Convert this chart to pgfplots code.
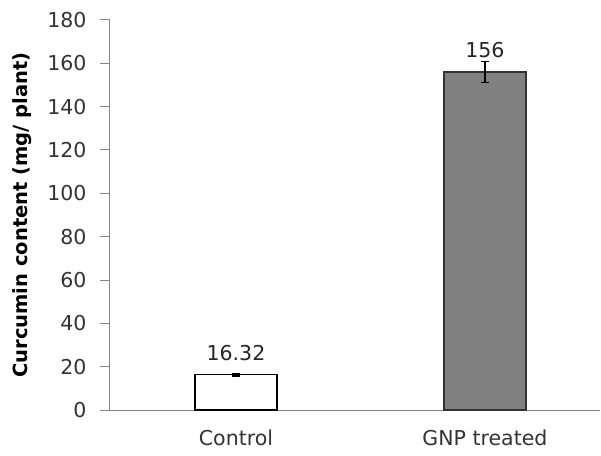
\documentclass[border=0pt]{standalone}
\usepackage{pgfplots}
\pgfplotsset{compat=1.18}
\usepackage{fontspec}
\setmainfont{DejaVu Sans}
\definecolor{axgray}{HTML}{868686}
\definecolor{bargray}{HTML}{808080}
\begin{document}
\begin{tikzpicture}[x=1pt,y=1pt]
\useasboundingbox (-110,-45) rectangle (491,410);
\begin{axis}[
  at={(0,0)}, anchor=south west,
  scale only axis, width=490pt, height=390pt,
  xmin=-0.506, xmax=1.462, ymin=0, ymax=180,
  axis x line=bottom, axis y line=left,
  axis line style={-, draw=axgray, line width=1pt},
  xtick={0,1}, xticklabels={Control, GNP treated},
  ytick={0,20,...,180},
  /pgf/number format/assume math mode=true,
  tick label style={font=\fontsize{20.5}{24}\selectfont, text=black!80},
  x tick style={draw=none},
  y tick style={draw=axgray, line width=1pt},
  tick align=outside, major tick length=10pt,
  yticklabel style={xshift=-10pt},
  xticklabel style={yshift=-6pt},
  ylabel={\textbf{Curcumin content (mg/ plant)}},
  every axis y label/.style={at={(axis description cs:-0.18,0.5)}, rotate=90, anchor=center, font=\fontsize{19.5}{22}\selectfont},
  ybar, bar width=82pt, bar shift=0pt,
  nodes near coords={\pgfmathprintnumber[fixed,precision=2]{\pgfplotspointmeta}},
  every node near coord/.append style={font=\fontsize{20.5}{24}\selectfont, text=black!85, yshift=10pt},
  error bars/y dir=both, error bars/y explicit,
  error bars/error bar style={black, line width=1.2pt},
  error bars/error mark options={rotate=90, mark size=4pt, black, line width=1.2pt},
]
\addplot[draw=black, fill=white, line width=1.2pt] coordinates {(0,16.32) +- (0,0.6)};
\addplot[draw=black!80, fill=bargray, line width=1.2pt] coordinates {(1,156) +- (0,5)};
\end{axis}
\end{tikzpicture}
\end{document}
